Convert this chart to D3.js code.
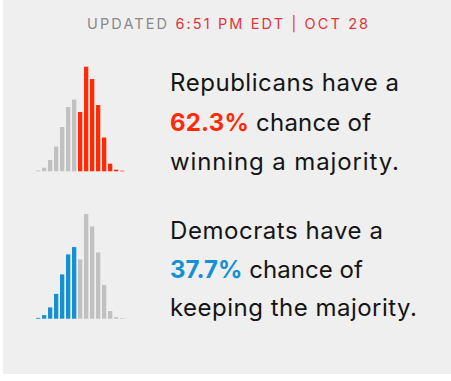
<!DOCTYPE html>
<html>
<head>
<meta charset="utf-8">
<script src="https://cdn.jsdelivr.net/npm/d3@7"></script>
<style>
  html, body { margin: 0; padding: 0; background: #ffffff; }
  svg { display: block; }
</style>
</head>
<body>
<svg id="chart" width="451" height="381"></svg>
<script>
// ---- data ----
const seatBins = [0,1,2,3,4,5,6,7,8,9,10,11,12,13,14];
const binProbability = [0.14, 0.61, 1.93, 4.23, 7.55, 10.96, 12.21, 10.11, 17.83, 15.72, 11.29, 5.76, 1.30, 0.27, 0.10];
const majorityBin = 7; // bins >= this index are a Republican majority
const updatedLabel = "UPDATED";
const updatedTime = "6:51 PM EDT | OCT 28";
const repChance = "62.3%";
const demChance = "37.7%";
const repLines = [["Republicans have a"], ["62.3%", " chance of"], ["winning a majority."]];
const demLines = [["Democrats have a"], ["37.7%", " chance of"], ["keeping the majority."]];
const repLineWidths = [229, 201, 229];
const demLineWidths = [213, 193, 247];

const RED = "#ff2b06", BLUE = "#1590d3", GRAY = "#c1c1c1";
const FONT = "Inter, Roboto, 'Liberation Sans', sans-serif";

const svg = d3.select("#chart");
svg.append("rect").attr("x", 3).attr("y", 0).attr("width", 448).attr("height", 374).attr("fill", "#efefef");

// header
const hdr = svg.append("text").attr("x", 87).attr("y", 29)
  .attr("font-family", FONT).attr("font-size", 14.5);
hdr.append("tspan").attr("fill", "#8a8a8a").text(updatedLabel + " ");
hdr.append("tspan").attr("fill", "#e2353a").text(updatedTime);
{
  const w = hdr.node().getComputedTextLength();
  const n = (updatedLabel + " " + updatedTime).length;
  hdr.attr("letter-spacing", ((281 - w) / (n - 1)).toFixed(2) + "px");
}

const x = d3.scaleBand().domain(seatBins).range([35.15, 125.15]).paddingInner(0.283).paddingOuter(0.1415);
const h = d3.scaleLinear().domain([0, 18]).range([0, 105.6]);

function histogram(baseY, colorFn) {
  svg.append("g").selectAll("rect").data(seatBins).join("rect")
    .attr("x", d => x(d))
    .attr("width", x.bandwidth())
    .attr("y", d => baseY - h(binProbability[d]))
    .attr("height", d => h(binProbability[d]))
    .attr("fill", colorFn);
}
histogram(171.3, d => d >= majorityBin ? RED : GRAY);
histogram(318.7, d => d < majorityBin ? BLUE : GRAY);

function para(lines, widths, y0, dy, color) {
  lines.forEach((parts, i) => {
    const t = svg.append("text").attr("x", 170).attr("y", y0 + i * dy)
      .attr("font-family", FONT).attr("font-size", 24)
      .attr("fill", "#151515");
    parts.forEach(p => {
      const isPct = p === repChance || p === demChance;
      t.append("tspan").text(p)
        .attr("font-weight", isPct ? 700 : 400)
        .attr("fill", isPct ? color : "#151515");
    });
    const w = t.node().getComputedTextLength();
    const n = parts.join("").length;
    t.attr("letter-spacing", ((widths[i] - w) / (n - 1)).toFixed(2) + "px");
  });
}
para(repLines, repLineWidths, 91, 39.5, RED);
para(demLines, demLineWidths, 239, 38.5, BLUE);
</script>
</body>
</html>
